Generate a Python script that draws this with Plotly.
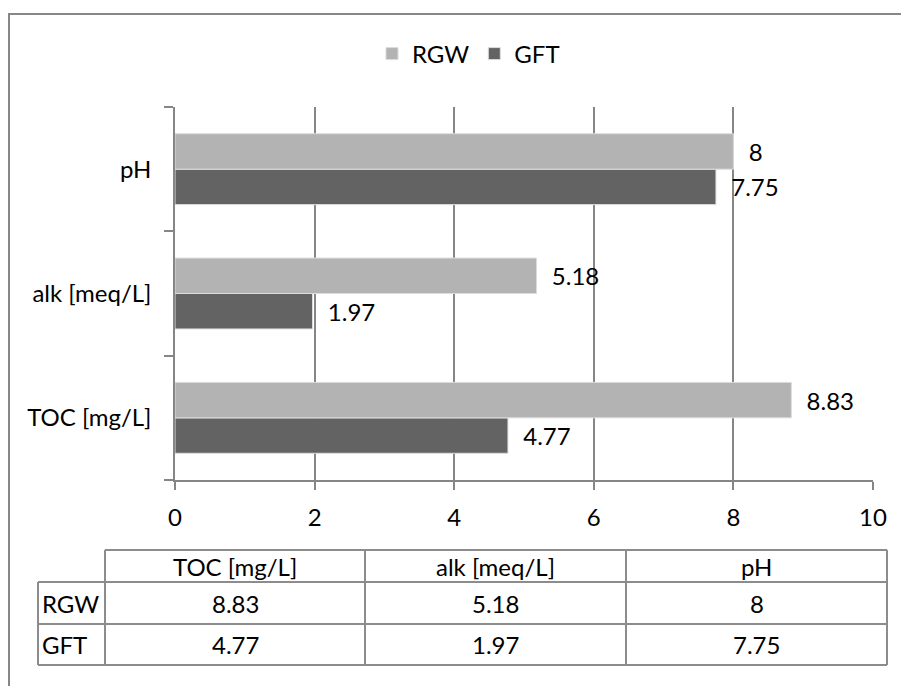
import plotly.graph_objects as go

# ---- data -------------------------------------------------------------
categories = ["TOC [mg/L]", "alk [meq/L]", "pH"]
rgw_values = [8.83, 5.18, 8]
gft_values = [4.77, 1.97, 7.75]
series_names = ["RGW", "GFT"]
x_ticks = [0, 2, 4, 6, 8, 10]

# ---- geometry (pixels) ------------------------------------------------
W, H = 901, 686
PL, PR, PT, PB = 175, 873, 107, 480   # plot area edges

FONT = "Lato"
FSIZE = 24
GRID = "#868686"
LIGHT = "#b3b3b3"
DARK = "#636363"


def px(x):
    return (x - PL) / (PR - PL)


def py(y):
    return (PB - y) / (PB - PT)


fig = go.Figure()

# GFT first so it sits below RGW inside each horizontal group
for name, vals, color, rank in [
    (series_names[1], gft_values, DARK, 2),
    (series_names[0], rgw_values, LIGHT, 1),
]:
    fig.add_bar(
        y=categories,
        x=vals,
        orientation="h",
        name=name,
        legendrank=rank,
        marker=dict(color=color, line=dict(color="#dcdcdc", width=1)),
        texttemplate="\u00a0\u00a0%{x}",
        textposition="outside",
        textfont=dict(family=FONT, size=FSIZE, color="black"),
        constraintext="none",
        cliponaxis=False,
    )

fig.update_layout(
    width=W,
    height=H,
    margin=dict(l=PL, r=W - PR, t=PT, b=H - PB, pad=0),
    paper_bgcolor="white",
    plot_bgcolor="white",
    barmode="group",
    bargap=0.43,
    bargroupgap=0,
    font=dict(family=FONT, size=FSIZE, color="black"),
    showlegend=True,
    legend=dict(
        orientation="h",
        x=px(372),
        xanchor="left",
        y=py(54),
        yanchor="middle",
        font=dict(family=FONT, size=FSIZE, color="black"),
        bgcolor="rgba(0,0,0,0)",
        itemwidth=30,
    ),
    xaxis=dict(
        range=[0, 10],
        tickvals=x_ticks,
        showgrid=True,
        gridcolor=GRID,
        gridwidth=1.5,
        zeroline=False,
        showline=True,
        linecolor=GRID,
        linewidth=1.5,
        ticks="outside",
        ticklen=8,
        tickcolor=GRID,
        tickwidth=1.5,
        ticklabelstandoff=7,
        tickfont=dict(family=FONT, size=FSIZE, color="black"),
    ),
    yaxis=dict(
        type="category",
        categoryorder="array",
        categoryarray=categories,
        tickson="boundaries",
        showgrid=False,
        zeroline=False,
        showline=True,
        linecolor=GRID,
        linewidth=1.5,
        ticks="outside",
        ticklen=9,
        tickcolor=GRID,
        tickwidth=1.5,
        ticklabelstandoff=17,
        tickfont=dict(family=FONT, size=FSIZE, color="black"),
    ),
)

shapes = []
annotations = []

# outer chart frame (left and top edges)
frame = dict(type="line", xref="paper", yref="paper",
             line=dict(color="#878787", width=2))
shapes.append(dict(frame, x0=px(9), x1=px(9), y0=py(14), y1=py(700)))
shapes.append(dict(frame, x0=px(8), x1=px(920), y0=py(14), y1=py(14)))

# ---- data table below the chart -------------------------------------
col_edges = [38, 105, 365, 626, 887]
row_edges = [550, 582, 624, 665]
tline = dict(type="line", xref="paper", yref="paper",
             line=dict(color="#8c8c8c", width=2))

# horizontal rules
shapes.append(dict(tline, x0=px(col_edges[1]), x1=px(col_edges[-1]),
                   y0=py(row_edges[0]), y1=py(row_edges[0])))
for ry in row_edges[1:]:
    shapes.append(dict(tline, x0=px(col_edges[0]), x1=px(col_edges[-1]),
                       y0=py(ry), y1=py(ry)))
# vertical rules
shapes.append(dict(tline, x0=px(col_edges[0]), x1=px(col_edges[0]),
                   y0=py(row_edges[1]), y1=py(row_edges[-1])))
for cx in col_edges[1:]:
    shapes.append(dict(tline, x0=px(cx), x1=px(cx),
                       y0=py(row_edges[0]), y1=py(row_edges[-1])))

cell_font = dict(family=FONT, size=FSIZE, color="black")


def cell_text(text, cx, cy, anchor="center"):
    annotations.append(dict(
        text=text, xref="paper", yref="paper", x=px(cx), y=py(cy),
        xanchor=anchor, yanchor="middle", showarrow=False, font=cell_font,
    ))


# header row
for i, cat in enumerate(categories):
    cx = (col_edges[i + 1] + col_edges[i + 2]) / 2
    cell_text(cat, cx, (row_edges[0] + row_edges[1]) / 2)

# value rows
for r, (name, vals) in enumerate(zip(series_names, [rgw_values, gft_values])):
    cy = (row_edges[r + 1] + row_edges[r + 2]) / 2
    cell_text(name, col_edges[0] + 2, cy, anchor="left")
    for i, v in enumerate(vals):
        cx = (col_edges[i + 1] + col_edges[i + 2]) / 2
        cell_text(f"{v:g}", cx, cy)

fig.update_layout(shapes=shapes, annotations=annotations)

fig.write_html("out.html")
